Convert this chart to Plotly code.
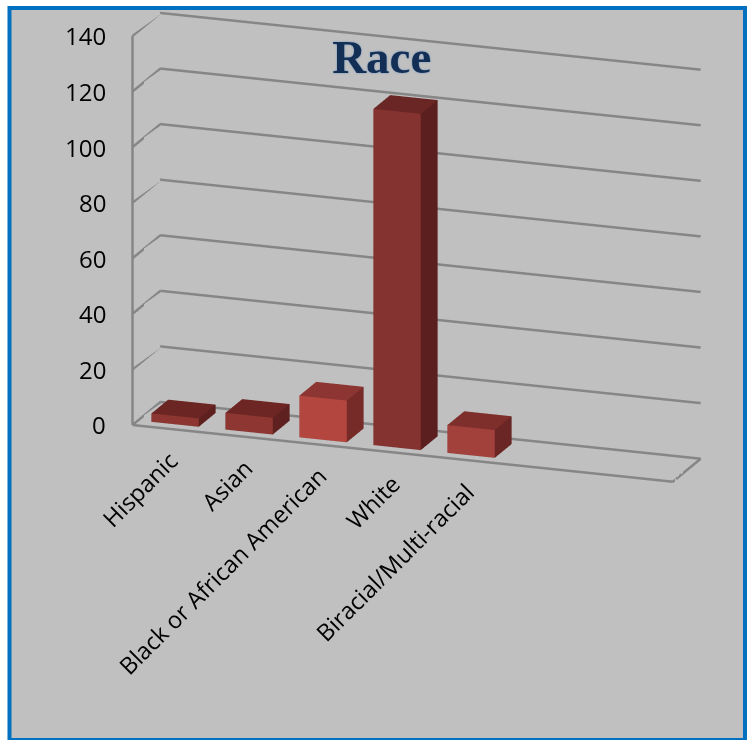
import math
import plotly.graph_objects as go

# Survey counts by race
categories = ["Hispanic", "Asian", "Black or African American", "White", "Biracial/Multi-racial"]
counts = [3, 6, 15, 121, 10]

# Value axis ticks
z_ticks = [0, 20, 40, 60, 80, 100, 120, 140]
z_max = 140

# Category axis: bars fill the first five slots of a wider floor
x_range = [-0.5, 6.8]
depth_range = [0.0, 1.0]
z_range = [0, z_max]
bar_width = 0.64
bar_depth = [0.2, 0.8]

# Face shades per bar: front, top, side
front_colors = ["#8c3531", "#8e3632", "#b3463f", "#853331", "#a2403b"]
top_colors = ["#6b2523", "#6d2624", "#8d3532", "#6a2624", "#7e2f2c"]
side_colors = ["#5e201e", "#5f211f", "#772b28", "#5a1f1e", "#6a2624"]

GRID = "#868686"
BG = "#c0c0c0"

fig = go.Figure()

# Wall gridlines: each value line runs along the side wall then the back wall
gx, gy, gz = [], [], []
for v in z_ticks:
    gx += [x_range[0], x_range[0], x_range[1], None]
    gy += [depth_range[0], depth_range[1], depth_range[1], None]
    gz += [v, v, v, None]
# front vertical edge of the side wall, floor front edge and floor right edge
gx += [x_range[0], x_range[0], None, x_range[0], x_range[1], x_range[1]]
gy += [depth_range[0], depth_range[0], None, depth_range[0], depth_range[0], depth_range[1]]
gz += [0, z_max, None, 0, 0, 0]
fig.add_trace(go.Scatter3d(x=gx, y=gy, z=gz, mode="lines",
                           line=dict(color=GRID, width=5),
                           hoverinfo="skip", showlegend=False))

# Bars as shaded boxes
for i, (name, v) in enumerate(zip(categories, counts)):
    x0, x1 = i - bar_width / 2, i + bar_width / 2
    y0, y1 = bar_depth
    xs = [x0, x1, x1, x0, x0, x1, x1, x0]
    ys = [y0, y0, y1, y1, y0, y0, y1, y1]
    zs = [0, 0, 0, 0, v, v, v, v]
    tri = [
        (0, 1, 5), (0, 5, 4),   # front
        (3, 7, 6), (3, 6, 2),   # back
        (0, 4, 7), (0, 7, 3),   # left
        (1, 2, 6), (1, 6, 5),   # right
        (4, 5, 6), (4, 6, 7),   # top
        (0, 3, 2), (0, 2, 1),   # bottom
    ]
    fc = ([front_colors[i]] * 2 + [side_colors[i]] * 6
          + [top_colors[i]] * 2 + [side_colors[i]] * 2)
    fig.add_trace(go.Mesh3d(
        x=xs, y=ys, z=zs,
        i=[t[0] for t in tri], j=[t[1] for t in tri], k=[t[2] for t in tri],
        facecolor=fc, flatshading=True,
        lighting=dict(ambient=1.0, diffuse=0.0, specular=0.0, fresnel=0.0, roughness=1.0),
        hoverinfo="skip", showlegend=False, name=name,
    ))

# Scene box proportions
aspect = dict(x=1.5506, y=0.2248, z=1.0999)

# Camera: turned slightly to the right and tilted down (orthographic view)
yaw = math.radians(19.67)
pitch = math.radians(17.08)
dist = 2.5
k_px = 370.0               # pixels per scene unit in the orthographic view
vp_center = (373.5, 370.0)  # viewport centre in pixels
corner_px = (132.5, 425.0)  # where the front-left floor corner should sit

right = (math.cos(yaw), math.sin(yaw), 0.0)
up = (-math.sin(yaw) * math.sin(pitch), math.cos(yaw) * math.sin(pitch), math.cos(pitch))
view = (math.sin(yaw) * math.cos(pitch), -math.cos(yaw) * math.cos(pitch), math.sin(pitch))


def to_scene(val, rng, a):
    return (val - (rng[0] + rng[1]) / 2) / (rng[1] - rng[0]) * a


corner = (to_scene(x_range[0], x_range, aspect["x"]),
          to_scene(depth_range[0], depth_range, aspect["y"]),
          to_scene(0, z_range, aspect["z"]))
dx_px = corner_px[0] - vp_center[0]
dy_px = corner_px[1] - vp_center[1]
center = [corner[a] - (dx_px / k_px) * right[a] + (dy_px / k_px) * up[a] for a in range(3)]
eye = [center[a] + dist * view[a] for a in range(3)]

axis_common = dict(showgrid=False, showline=False, zeroline=False, showticklabels=False,
                   showbackground=False, showspikes=False, ticks="", title=dict(text=""))

# Tick labels on the value axis and rotated category labels
annotations = []
for v in z_ticks:
    annotations.append(dict(x=x_range[0], y=depth_range[0], z=v, text=str(v),
                            showarrow=False, xanchor="right", yanchor="middle", xshift=-25,
                            font=dict(family="Open Sans", size=24, color="#000000")))
for i, name in enumerate(categories):
    annotations.append(dict(x=i, y=depth_range[0], z=0, text=name, textangle=-45,
                            showarrow=False, xanchor="right", yanchor="top",
                            xshift=18, yshift=-13,
                            font=dict(family="Open Sans", size=23.5, color="#000000")))

fig.update_layout(
    width=747, height=740, autosize=False,
    margin=dict(l=0, r=0, t=0, b=0),
    paper_bgcolor="#ffffff",
    plot_bgcolor=BG,
    title=dict(text="Race", x=0.511, xanchor="center", y=0.924, yanchor="middle",
               font=dict(family="Liberation Serif", size=47, color="#142f55", weight="bold",
                         shadow="0px 0px 2px rgba(79,129,189,0.8)")),
    scene=dict(
        domain=dict(x=[0, 1], y=[0, 1]),
        bgcolor="rgba(0,0,0,0)",
        xaxis=dict(range=x_range, **axis_common),
        yaxis=dict(range=depth_range, **axis_common),
        zaxis=dict(range=z_range, **axis_common),
        aspectmode="manual",
        aspectratio=aspect,
        camera=dict(eye=dict(x=eye[0], y=eye[1], z=eye[2]),
                    center=dict(x=center[0], y=center[1], z=center[2]),
                    up=dict(x=0, y=0, z=1),
                    projection=dict(type="orthographic")),
        annotations=annotations,
    ),
    shapes=[dict(type="rect", xref="paper", yref="paper", x0=0.0127, x1=0.9973, y0=0.0, y1=0.9892,
                 fillcolor=BG, line=dict(color="#0070c0", width=4), layer="below")],
    showlegend=False,
)

fig.write_html("out.html", config=dict(displayModeBar=False))
